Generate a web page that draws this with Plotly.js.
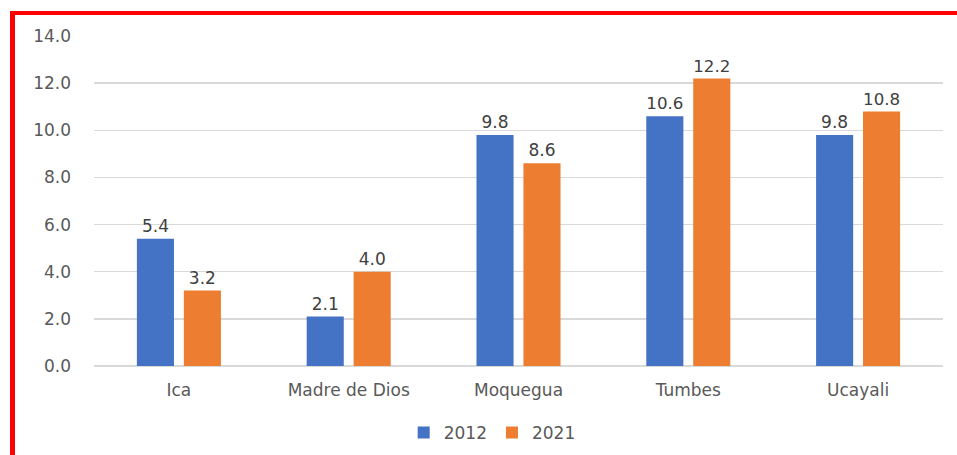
<!DOCTYPE html>
<html>
<head>
<meta charset="utf-8">
<script src="https://cdn.plot.ly/plotly-3.0.1.min.js"></script>
<style>
html,body{margin:0;padding:0;background:#fff;}
#wrap{position:relative;width:957px;height:455px;}
#chart{position:absolute;left:0;top:0;width:957px;height:455px;}
#frame{position:absolute;left:10px;top:11px;right:0;bottom:0;border-left:5px solid #ff0000;border-top:4px solid #ff0000;pointer-events:none;}
</style>
</head>
<body>
<div id="wrap"><div id="chart"></div><div id="frame"></div></div>
<script>
const categories = ["Ica", "Madre de Dios", "Moquegua", "Tumbes", "Ucayali"];
const values2012 = [5.4, 2.1, 9.8, 10.6, 9.8];
const values2021 = [3.2, 4.0, 8.6, 12.2, 10.8];
const seriesNames = ["2012", "2021"];

const fontFam = "'DejaVu Sans', 'Open Sans', sans-serif";
const mk = (name, vals, color) => ({
  type: 'bar', name: name, x: categories, y: vals,
  marker: {color: color},
  text: vals.map(v => v.toFixed(1)), textposition: 'outside',
  textfont: {family: fontFam, size: 17, color: '#404040'},
  cliponaxis: false, hoverinfo: 'skip'
});
const data = [mk(seriesNames[0], values2012, '#4472c4'), mk(seriesNames[1], values2021, '#ed7d31')];
const layout = {
  width: 957, height: 455,
  margin: {l: 94, r: 14, t: 36, b: 89, autoexpand: false},
  paper_bgcolor: '#fff', plot_bgcolor: '#fff',
  barmode: 'group', bargap: 0.447, bargroupgap: 0.21,
  font: {family: fontFam, size: 17, color: '#595959'},
  xaxis: {showgrid: false, showline: false, ticks: '', automargin: false, ticklabelstandoff: 12,
          tickfont: {size: 17, color: '#595959'}},
  yaxis: {range: [0, 14], dtick: 2, tickformat: '.1f', showgrid: true, gridcolor: '#d9d9d9', gridwidth: 1.5,
          zeroline: true, zerolinecolor: '#d9d9d9', zerolinewidth: 1.5, showline: false, ticks: '', automargin: false,
          ticklabelstandoff: 22, tickfont: {size: 17, color: '#595959'}},
  showlegend: true,
  legend: {orientation: 'h', x: 0.469, xanchor: 'center', y: -0.203, yanchor: 'middle',
           font: {size: 17, color: '#595959'}, itemwidth: 30, traceorder: 'normal'}
};
Plotly.newPlot('chart', data, layout, {displayModeBar: false, staticPlot: true});
</script>
</body>
</html>
